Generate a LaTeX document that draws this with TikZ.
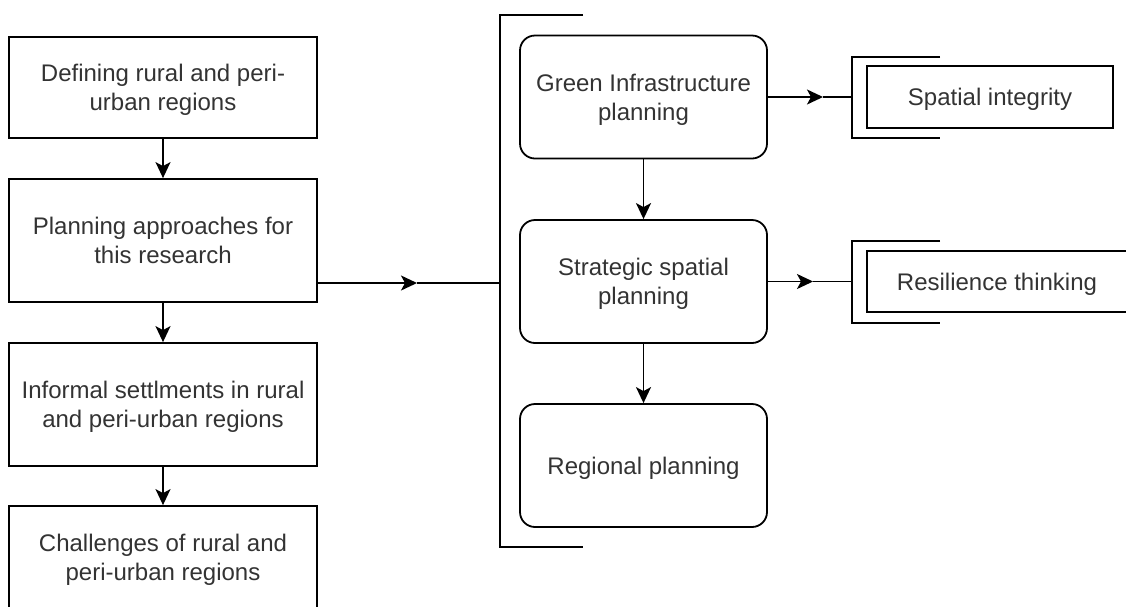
\documentclass[tikz,border=0pt]{standalone}
\usepackage{fontspec}
\setmainfont{Liberation Sans}
\usetikzlibrary{arrows.meta}

\begin{document}
\begin{tikzpicture}[x=1pt,y=-1pt,
    every node/.style={font=\fontsize{24}{28.8}\selectfont, text=black!80, align=center, text depth=0pt},
    conn/.style={line width=1.8pt},
    flowarrow/.style={conn, -{Stealth[length=16pt,width=15pt,inset=4pt]}},
    leftbox/.style={draw, line width=1.8pt, inner sep=0pt, minimum width=308},
    roundbox/.style={leftbox, rounded corners=15, minimum width=247, minimum height=123},
    sidebox/.style={draw, line width=1.8pt, inner sep=0pt}]

    % Picture frame
    \useasboundingbox (0,0) rectangle (1126,606);
    \clip (0,0) rectangle (1126,606);

    % Left column
    \node[leftbox, minimum height=101] (define) at (163,87.5) {Defining rural and peri-\\urban regions};
    \node[leftbox, minimum height=123] (approach) at (163,240.5) {Planning approaches for\\this research};
    \node[leftbox, minimum height=123] (informal) at (163,404.5) {Informal settlments in rural\\and peri-urban regions};
    \node[leftbox, minimum height=102] (challenge) at (163,557) {Challenges of rural and\\peri-urban regions};

    \draw[flowarrow] (define) -- (approach);
    \draw[flowarrow] (approach) -- (informal);
    \draw[flowarrow] (informal) -- (challenge);

    % Bracket round the planning approaches
    \coordinate (hub) at (500,283);
    \coordinate (hubtip) at (417,283);
    \draw[conn] (583,15) -| (500,547) -- (583,547);
    \draw[flowarrow] (approach.east |- hub) -- (hubtip);
    \draw[conn] (hubtip) -- (hub);

    % Planning approaches
    \node[roundbox] (green) at (643.5,97) {Green Infrastructure\\planning};
    \node[roundbox] (strategic) at (643.5,281.5) {Strategic spatial\\planning};
    \node[roundbox] (regional) at (643.5,465.5) {Regional planning};

    \draw[flowarrow] (green) -- (strategic);
    \draw[flowarrow] (strategic) -- (regional);

    % Outcomes
    \node[sidebox, minimum width=246, minimum height=62] (integrity) at (990,97) {Spatial integrity};
    \node[sidebox, minimum width=260, minimum height=61] (resilience) at (997,281.5) {Resilience thinking};

    \coordinate (gbrk) at (852,97);
    \coordinate (gtip) at (823,97);
    \draw[conn] (940,57) -| (852,138) -- (940,138);
    \draw[flowarrow] (green) -- (gtip);
    \draw[conn] (gtip) -- (gbrk);

    \coordinate (sbrk) at (852,281.5);
    \coordinate (stip) at (813,281.5);
    \draw[conn] (940,241) -| (852,323) -- (940,323);
    \draw[flowarrow] (strategic) -- (stip);
    \draw[conn] (stip) -- (sbrk);

\end{tikzpicture}
\end{document}
